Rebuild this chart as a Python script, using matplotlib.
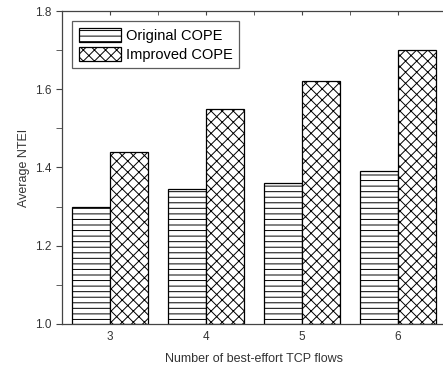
import numpy as np
import matplotlib
matplotlib.use('Agg')
import matplotlib.pyplot as plt

plt.rcParams['font.family'] = ['Liberation Sans', 'DejaVu Sans']
plt.rcParams['hatch.linewidth'] = 0.7

flows = [3, 4, 5, 6]
original = [1.30, 1.345, 1.36, 1.39]
improved = [1.44, 1.55, 1.62, 1.70]
labels = ['Original COPE', 'Improved COPE']

x = np.array(flows, dtype=float)
w = 0.4

fig = plt.figure(figsize=(4.43, 3.68), dpi=100)
ax = fig.add_axes([0.140, 0.1196, 0.867, 0.8505])

ax.bar(x - w / 2, np.array(original) - 1.0, w, bottom=1.0, color='white',
       edgecolor='black', linewidth=0.9, hatch='---', label=labels[0])
ax.bar(x + w / 2, np.array(improved) - 1.0, w, bottom=1.0, color='white',
       edgecolor='black', linewidth=0.9, hatch='xxx', label=labels[1])

ax.set_xlim(2.5, 6.5)
ax.set_ylim(1.0, 1.8)
ax.set_xticks(flows)
ax.set_xticks(x[:-1] + 0.5, minor=True)
ax.set_yticks([1.0, 1.2, 1.4, 1.6, 1.8])
ax.set_yticks([1.1, 1.3, 1.5, 1.7], minor=True)
ax.set_yticklabels(['1.0', '1.2', '1.4', '1.6', '1.8'])

ax.tick_params(axis='x', which='both', bottom=False, top=True, direction='in',
               length=3, color='#444444', labelsize=8.5, labelcolor='#333333', pad=5)
ax.tick_params(axis='y', which='both', direction='out', length=4,
               color='#444444', labelsize=8.5, labelcolor='#333333')
for s in ax.spines.values():
    s.set_color('#444444')
    s.set_linewidth(0.9)

ax.set_xlabel('Number of best-effort TCP flows', fontsize=9, color='#333333', labelpad=7)
ax.set_ylabel('Average NTEI', fontsize=9, color='#333333', labelpad=4)

leg = ax.legend(loc='upper left', bbox_to_anchor=(0.026, 0.968), fontsize=10.5,
                frameon=True, fancybox=False, handlelength=2.9, handleheight=1.1,
                handletextpad=0.35, borderpad=0.45, labelspacing=0.3,
                borderaxespad=0.0)
leg.get_frame().set_edgecolor('#333333')
leg.get_frame().set_linewidth(0.9)

plt.savefig('out.png', dpi=100)
